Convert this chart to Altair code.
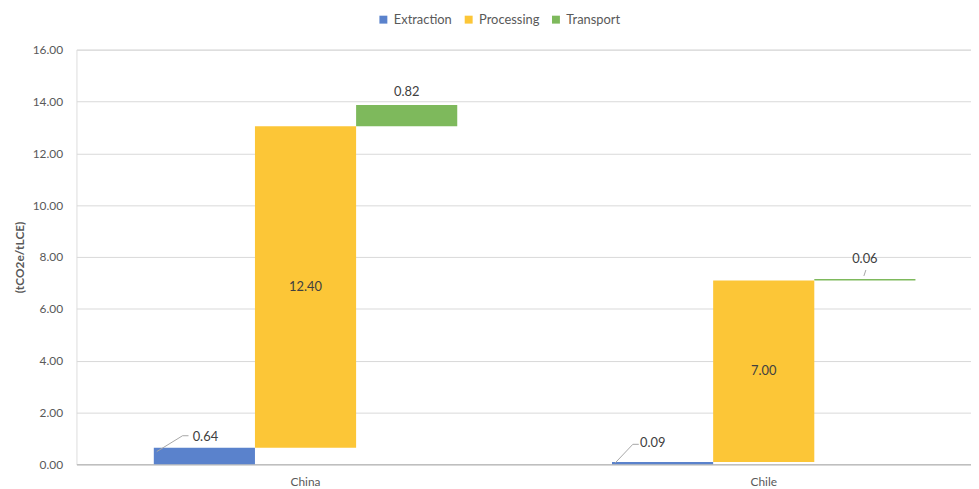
import altair as alt
import pandas as pd

countries = ["China", "Chile"]
stages = ["Extraction", "Processing", "Transport"]
china_values = [0.64, 12.40, 0.82]
chile_values = [0.09, 7.00, 0.06]
fill_colors = ["#5a82cc", "#fcc637", "#7eb95c"]

rows = []
for country, vals in zip(countries, [china_values, chile_values]):
    cum = 0.0
    for stage, v in zip(stages, vals):
        rows.append({"country": country, "stage": stage, "start": cum, "end": cum + v,
                     "mid": cum + v / 2, "label": f"{v:.2f}"})
        cum += v
df = pd.DataFrame(rows)

FONT = "Lato"
GREY = "#595959"
LEADER = "#a6a6a6"

x_enc = alt.X("country:N", sort=countries,
              scale=alt.Scale(domain=countries, range=[0, 924], paddingInner=0, paddingOuter=0),
              axis=alt.Axis(title=None, labelAngle=0, ticks=False, labelPadding=12,
                            labelColor=GREY, labelFontSize=12, labelFont=FONT,
                            domainColor="#bfbfbf", domainWidth=1.5, grid=False))
xo_enc = alt.XOffset("stage:N", sort=stages,
                     scale=alt.Scale(domain=stages, paddingInner=0, paddingOuter=0.765))

base = alt.Chart(df).encode(x=x_enc, xOffset=xo_enc)

bars = base.mark_bar().encode(
    y=alt.Y("start:Q", scale=alt.Scale(domain=[0, 16], nice=False),
            axis=alt.Axis(title="(tCO2e/tLCE)", values=list(range(0, 17, 2)), format=".2f",
                          ticks=False, domain=False, labelPadding=14, labelColor=GREY,
                          labelFontSize=12, labelFont=FONT, gridColor="#d9d9d9",
                          titleFont=FONT, titleFontSize=12, titleFontWeight="bold",
                          titleColor=GREY, titlePadding=6)),
    y2="end:Q",
    color=alt.Color("stage:N", sort=stages,
                    scale=alt.Scale(domain=stages, range=fill_colors),
                    legend=alt.Legend(title=None, orient="none", legendX=303, legendY=-37,
                                      direction="horizontal", symbolType="square",
                                      symbolSize=64, symbolStrokeWidth=0,
                                      labelFontSize=13, labelFont=FONT, labelColor=GREY,
                                      columnPadding=10, labelOffset=4, padding=0)),
)

mid_labels = base.transform_filter(alt.datum.stage == "Processing").mark_text(
    font=FONT, fontSize=13, color="#404040").encode(y="mid:Q", text="label:N")

is_china = alt.datum.country == "China"
is_chile = alt.datum.country == "Chile"
china_tr = base.transform_filter((alt.datum.stage == "Transport") & is_china).mark_text(
    font=FONT, fontSize=13, color="#404040", baseline="bottom", dy=-6).encode(y="end:Q", text="label:N")
chile_tr_sel = base.transform_filter((alt.datum.stage == "Transport") & is_chile)
chile_tr = chile_tr_sel.mark_text(
    font=FONT, fontSize=13, color="#404040", baseline="bottom", dy=-13).encode(y="end:Q", text="label:N")
chile_tr_line = chile_tr_sel.mark_point(
    shape="M -0.02 -0.06 L 0.02 -0.18", size=10000, filled=False, stroke=LEADER,
    strokeWidth=1, opacity=1).encode(y="end:Q")

china_ex = base.transform_filter((alt.datum.stage == "Extraction") & is_china)
chile_ex = base.transform_filter((alt.datum.stage == "Extraction") & is_chile)

china_ex_text = china_ex.mark_text(font=FONT, fontSize=13, color="#404040", dx=1, dy=-11).encode(
    y="end:Q", text="label:N")
china_ex_line = china_ex.mark_point(
    shape="M -0.96 0.08 L -0.44 -0.24 L -0.32 -0.24", size=10000, filled=False,
    stroke=LEADER, strokeWidth=1, opacity=1).encode(y="end:Q")

chile_ex_text = chile_ex.mark_text(font=FONT, fontSize=13, color="#404040", dx=-10, dy=-19).encode(
    y="end:Q", text="label:N")
chile_ex_line = chile_ex.mark_point(
    shape="M -0.96 0.026 L -0.6 -0.354 L -0.48 -0.354", size=10000, filled=False,
    stroke=LEADER, strokeWidth=1, opacity=1).encode(y="end:Q")

chart = alt.layer(
    bars, mid_labels, china_tr, chile_tr, chile_tr_line,
    china_ex_line, china_ex_text, chile_ex_line, chile_ex_text
).properties(
    width=902, height=418,
    autosize=alt.AutoSizeParams(type="none"),
    padding={"left": 69, "top": 40, "right": 0, "bottom": 23},
).configure_view(stroke=None).configure(background="white")

chart.save("out.html", embed_options={"renderer": "svg", "actions": False})
